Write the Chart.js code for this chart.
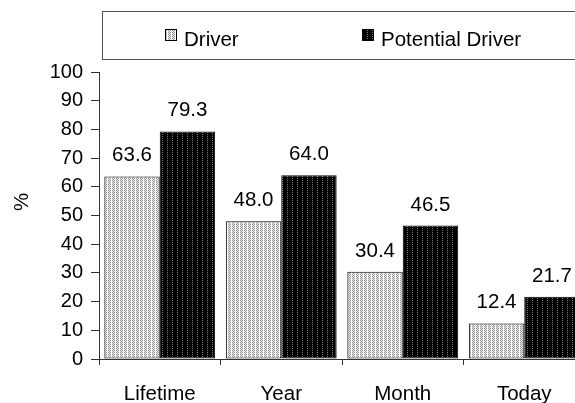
<!DOCTYPE html>
<html>
<head>
<meta charset="utf-8">
<script src="https://cdn.jsdelivr.net/npm/chart.js@4"></script>
<style>
  html, body { margin: 0; padding: 0; background: #fff; overflow: hidden; }
  #wrap { width: 590px; height: 403px; }
</style>
</head>
<body>
<div id="wrap"><canvas id="c" width="590" height="403"></canvas></div>
<script>
const categories = ['Lifetime', 'Year', 'Month', 'Today'];
const driverValues = [63.6, 48.0, 30.4, 12.4];
const potentialValues = [79.3, 64.0, 46.5, 21.7];
const seriesNames = ['Driver', 'Potential Driver'];
const yTicks = [0, 10, 20, 30, 40, 50, 60, 70, 80, 90, 100];
const yTitle = '%';

const FONT = '"Liberation Sans", Arial, sans-serif';
const TEXT_SIZE = 20.5;

// Small bitmap fills for the two bar series
function makePattern(w, h, paint) {
  const off = document.createElement('canvas');
  off.width = w; off.height = h;
  const g = off.getContext('2d');
  paint(g);
  return document.getElementById('c').getContext('2d').createPattern(off, 'repeat');
}
const lightFill = makePattern(4, 2, g => {
  g.fillStyle = '#e6e6e6'; g.fillRect(0, 0, 4, 2);
  g.fillStyle = '#9a9a9a';
  g.fillRect(0, 0, 1, 1); g.fillRect(1, 1, 1, 1);
  g.fillRect(2, 0, 1, 1);
  g.fillStyle = '#ffffff'; g.fillRect(3, 0, 1, 2);
});
const darkFill = makePattern(5, 2, g => {
  g.fillStyle = '#000000'; g.fillRect(0, 0, 5, 2);
  g.fillStyle = '#7a7a7a'; g.fillRect(2, 0, 1, 1);
});
const fills = [lightFill, darkFill];

// Value labels above each bar
const valueLabels = {
  id: 'valueLabels',
  afterDatasetsDraw(chart) {
    const ctx = chart.ctx;
    ctx.save();
    ctx.font = TEXT_SIZE + 'px ' + FONT;
    ctx.fillStyle = '#000';
    ctx.textAlign = 'center';
    ctx.textBaseline = 'alphabetic';
    chart.data.datasets.forEach((ds, i) => {
      chart.getDatasetMeta(i).data.forEach((bar, j) => {
        ctx.fillText(ds.data[j].toFixed(1), bar.x, bar.y - 15);
      });
    });
    ctx.restore();
  }
};

// Boxed legend across the top, plus the rotated y-axis title
const boxedLegend = {
  id: 'boxedLegend',
  afterDraw(chart) {
    const ctx = chart.ctx;
    ctx.save();
    ctx.strokeStyle = '#555';
    ctx.lineWidth = 1;
    ctx.strokeRect(102.5, 11.5, 500, 48);
    ctx.font = TEXT_SIZE + 'px ' + FONT;
    ctx.textBaseline = 'alphabetic';
    ctx.textAlign = 'left';
    const items = [{ sx: 165, tx: 184 }, { sx: 362, tx: 381 }];
    chart.data.datasets.forEach((ds, i) => {
      const it = items[i];
      ctx.fillStyle = fills[i];
      ctx.fillRect(it.sx, 29, 12, 12);
      ctx.strokeStyle = '#000';
      ctx.strokeRect(it.sx + 0.5, 29.5, 11, 11);
      ctx.fillStyle = '#000';
      ctx.fillText(ds.label, it.tx, 46);
    });

    ctx.translate(22, 202);
    ctx.rotate(-Math.PI / 2);
    ctx.textAlign = 'center';
    ctx.textBaseline = 'middle';
    ctx.fillText(yTitle, 0, 0);
    ctx.restore();
  }
};

new Chart(document.getElementById('c'), {
  type: 'bar',
  data: {
    labels: categories,
    datasets: [
      { label: seriesNames[0], data: driverValues, backgroundColor: lightFill,
        borderColor: '#000', borderWidth: 1, borderSkipped: false },
      { label: seriesNames[1], data: potentialValues, backgroundColor: darkFill,
        borderColor: '#000', borderWidth: 1, borderSkipped: false }
    ]
  },
  options: {
    responsive: false,
    animation: false,
    events: [],
    layout: { padding: { top: 72, right: 5, left: 0, bottom: 0 } },
    datasets: { bar: { categoryPercentage: 0.912, barPercentage: 1.0 } },
    plugins: { legend: { display: false }, tooltip: { enabled: false } },
    scales: {
      x: {
        grid: { display: true, drawOnChartArea: false, tickLength: 6, color: '#333', offset: true },
        border: { color: '#333', width: 1 },
        ticks: { color: '#000', font: { family: FONT, size: TEXT_SIZE }, padding: 17, maxRotation: 0 },
        afterFit(scale) { scale.height = 44; }
      },
      y: {
        min: 0, max: 100,
        afterBuildTicks(scale) { scale.ticks = yTicks.map(v => ({ value: v })); },
        grid: { display: true, drawOnChartArea: false, tickLength: 8, color: '#333' },
        border: { color: '#333', width: 1 },
        ticks: { color: '#000', font: { family: FONT, size: 20 }, padding: 8 },
        afterFit(scale) { scale.width = 99; }
      }
    }
  },
  plugins: [valueLabels, boxedLegend]
});
</script>
</body>
</html>
